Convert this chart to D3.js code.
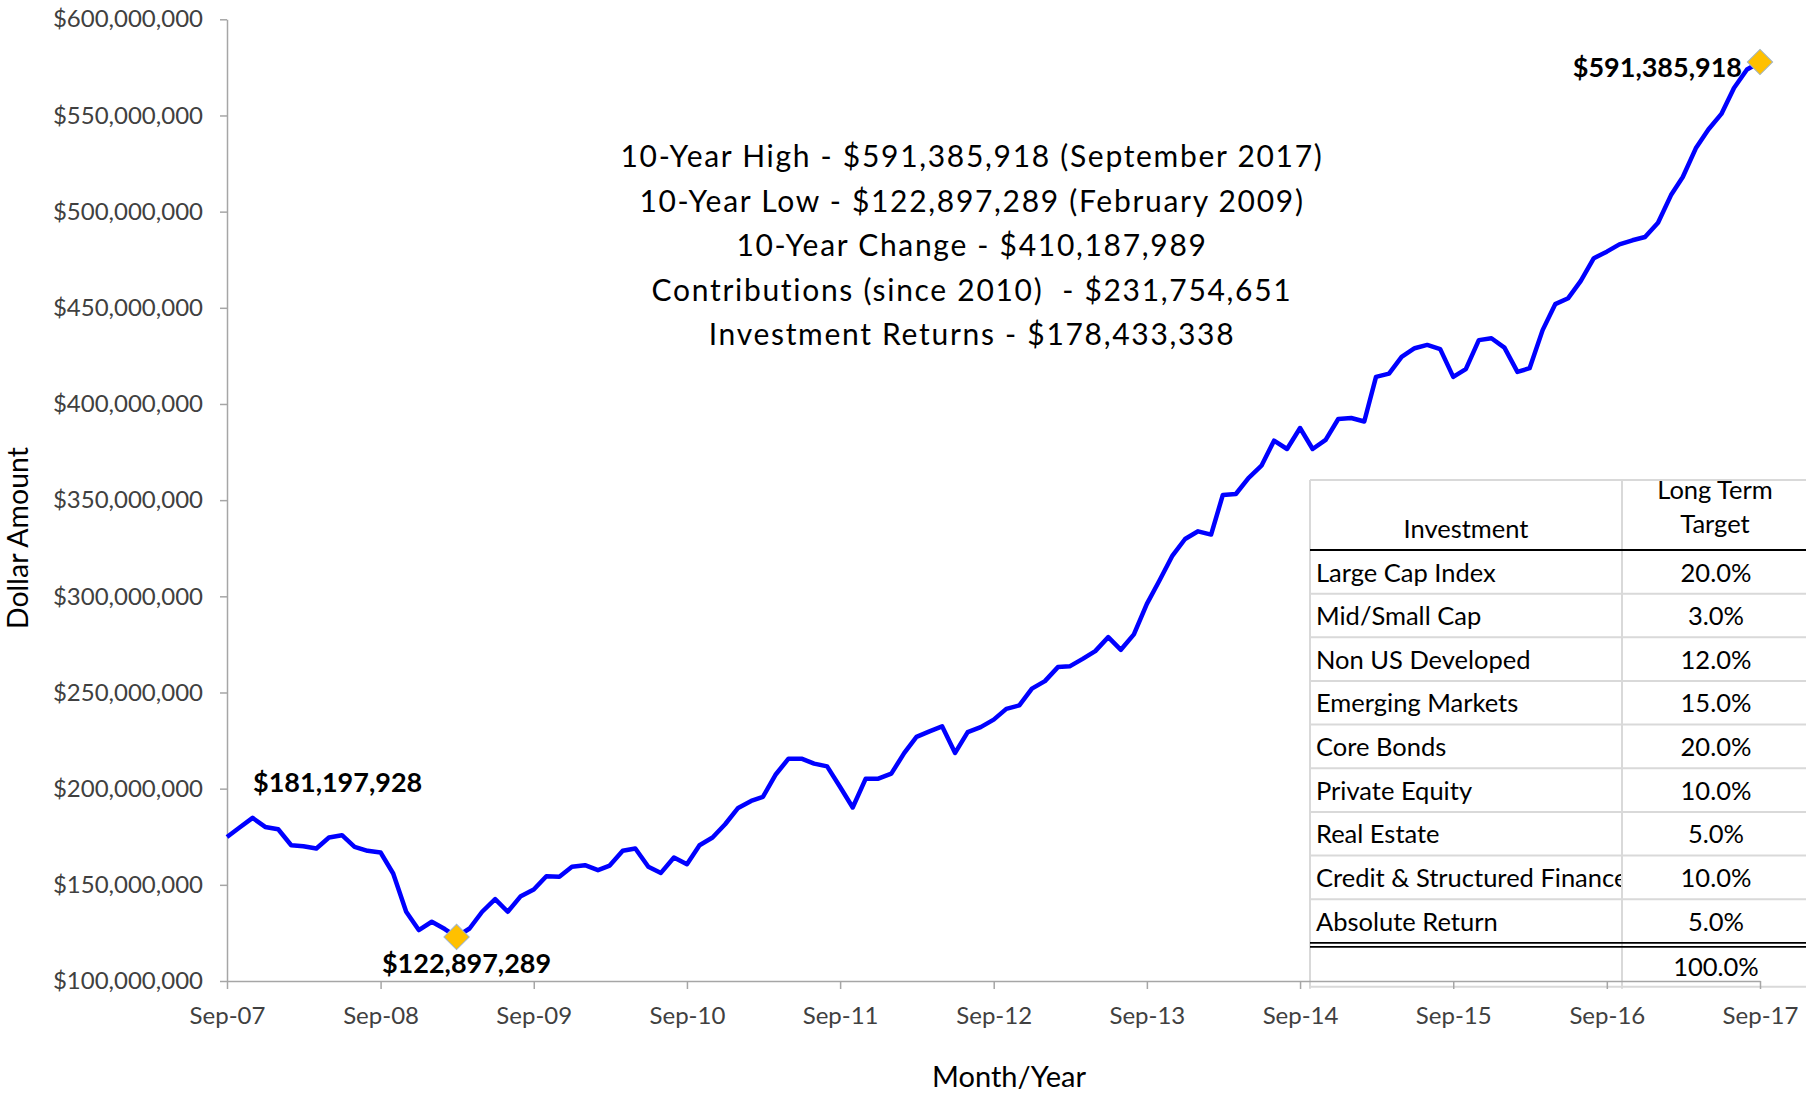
<!DOCTYPE html>
<html lang="en">
<head>
<meta charset="UTF-8">
<title>Plan Assets - 10 Years</title>
<script src="https://d3js.org/d3.v7.min.js"></script>
<style>
  body { margin: 0; background: #fff; }
  svg { display: block; font-family: Lato, "Open Sans", sans-serif; }
  .axis path, .axis line { stroke: #a6a6a6; stroke-width: 1.5; }
  .axis text { fill: #404040; font-family: Lato, sans-serif; }
</style>
</head>
<body>
<svg width="1806" height="1096"></svg>
<script>
// month-end asset value, $ millions, Sep-07 .. Sep-17 (one per month)
const firstMonth = new Date(2007, 8, 1);
const assetValues = [
  174.9, 179.8, 184.8, 180.1, 178.9, 170.6, 170.1, 168.9, 174.6, 175.8, 169.7, 167.7,
  166.8, 155.9, 136.0, 126.5, 130.8, 127.0, 122.9, 127.3, 136.0, 142.6, 136.0, 144.1,
  147.6, 154.5, 154.2, 159.4, 160.2, 157.6, 160.0, 167.7, 168.9, 159.4, 156.2, 164.2,
  160.7, 170.6, 174.6, 181.5, 190.0, 193.6, 195.7, 207.5, 215.6, 215.6, 213.0, 211.6,
  200.9, 190.2, 205.2, 205.2, 207.8, 218.6, 226.9, 229.8, 232.4, 218.6, 229.4, 232.0,
  235.9, 241.5, 243.3, 252.0, 255.9, 263.2, 263.6, 267.5, 271.5, 278.8, 272.2, 280.2,
  296.1, 308.2, 321.2, 329.8, 333.8, 332.1, 352.7, 353.2, 361.5, 367.9, 380.9, 376.6,
  387.5, 376.6, 381.3, 392.2, 392.7, 390.9, 414.1, 415.8, 424.5, 429.0, 430.7, 428.5,
  414.1, 418.1, 433.2, 434.2, 429.3, 416.7, 418.6, 438.4, 451.9, 455.0, 464.0, 475.8,
  479.2, 483.0, 485.1, 486.8, 494.2, 508.6, 518.0, 532.9, 542.7, 550.8, 564.3, 573.9,
  577.8
];

const xTickLabels = ["Sep-07", "Sep-08", "Sep-09", "Sep-10", "Sep-11", "Sep-12",
                     "Sep-13", "Sep-14", "Sep-15", "Sep-16", "Sep-17"];
const yTickValues = [100, 150, 200, 250, 300, 350, 400, 450, 500, 550, 600];

// labelled points: month index + text
const pointLabels = [
  { idx: 0,   text: "$181,197,928" },
  { idx: 18,  text: "$122,897,289" },
  { idx: 120, text: "$591,385,918" }
];
const markerIdx = [18, 120];

const notes = [
  "10-Year High - $591,385,918 (September 2017)",
  "10-Year Low - $122,897,289 (February 2009)",
  "10-Year Change - $410,187,989",
  "Contributions (since 2010)  - $231,754,651",
  "Investment Returns - $178,433,338"
];

const investments = ["Large Cap Index", "Mid/Small Cap", "Non US Developed", "Emerging Markets",
  "Core Bonds", "Private Equity", "Real Estate", "Credit & Structured Finance", "Absolute Return"];
const targets = ["20.0%", "3.0%", "12.0%", "15.0%", "20.0%", "10.0%", "5.0%", "10.0%", "5.0%"];
const totalTarget = "100.0%";

const svg = d3.select("svg");

const data = assetValues.map(function(v, i) {
  return { date: d3.timeMonth.offset(firstMonth, i), value: v };
});

const x = d3.scaleTime()
  .domain([firstMonth, d3.timeMonth.offset(firstMonth, 120)])
  .range([227, 1760]);
const y = d3.scaleLinear().domain([100, 600]).range([981, 19.3]);

// ---- allocation table (drawn first, axes sit over it)
const tb = { left: 1310, mid: 1622, right: 1810, top: 480, head: 550, rowH: 43.65 };
const tbl = svg.append("g");
const lastRow = tb.head + investments.length * tb.rowH;
const tblBottom = lastRow + 44;
tbl.append("rect").attr("x", tb.left).attr("y", tb.top)
  .attr("width", tb.right - tb.left).attr("height", tblBottom - tb.top).attr("fill", "#fff");

const grid = "#d9d9d9";
tbl.append("line").attr("x1", tb.left).attr("x2", tb.right).attr("y1", tb.top).attr("y2", tb.top)
  .attr("stroke", grid).attr("stroke-width", 2);
investments.forEach(function(d, k) {
  if (k === 0) return;
  const yy = tb.head + k * tb.rowH;
  tbl.append("line").attr("x1", tb.left).attr("x2", tb.right).attr("y1", yy).attr("y2", yy)
    .attr("stroke", grid).attr("stroke-width", 2);
});
tbl.append("line").attr("x1", tb.left).attr("x2", tb.right).attr("y1", tblBottom).attr("y2", tblBottom)
  .attr("stroke", grid).attr("stroke-width", 2);
[tb.left, tb.mid].forEach(function(xx) {
  tbl.append("line").attr("x1", xx).attr("x2", xx).attr("y1", tb.top).attr("y2", tblBottom + 2)
    .attr("stroke", grid).attr("stroke-width", 2);
});
tbl.append("line").attr("x1", tb.left).attr("x2", tb.right).attr("y1", tb.head).attr("y2", tb.head)
  .attr("stroke", "#000").attr("stroke-width", 2);
[lastRow, lastRow + 4].forEach(function(yy) {
  tbl.append("line").attr("x1", tb.left).attr("x2", tb.right).attr("y1", yy).attr("y2", yy)
    .attr("stroke", "#000").attr("stroke-width", 1.6);
});

svg.append("clipPath").attr("id", "col1")
  .append("rect").attr("x", tb.left).attr("y", tb.top).attr("width", tb.mid - tb.left - 1).attr("height", 600);

const tfont = 25.5;
tbl.append("text").attr("x", (tb.left + tb.mid) / 2).attr("y", 538).attr("text-anchor", "middle")
  .attr("font-size", tfont).text("Investment");
tbl.append("text").attr("x", 1715).attr("y", 499).attr("text-anchor", "middle")
  .attr("font-size", tfont).text("Long Term");
tbl.append("text").attr("x", 1715).attr("y", 533).attr("text-anchor", "middle")
  .attr("font-size", tfont).text("Target");

tbl.selectAll(".inv").data(investments).enter().append("text")
  .attr("x", tb.left + 6)
  .attr("y", function(d, k) { return tb.head + k * tb.rowH + 31.5; })
  .attr("font-size", tfont)
  .attr("clip-path", "url(#col1)")
  .text(function(d) { return d; });
tbl.selectAll(".tgt").data(targets).enter().append("text")
  .attr("x", 1716)
  .attr("y", function(d, k) { return tb.head + k * tb.rowH + 31.5; })
  .attr("text-anchor", "middle")
  .attr("font-size", tfont)
  .text(function(d) { return d; });
tbl.append("text").attr("x", 1716).attr("y", tblBottom - 11).attr("text-anchor", "middle")
  .attr("font-size", tfont).text(totalTarget);

// ---- axes
const fmtMoney = function(v) { return "$" + d3.format(",")(v * 1e6); };

svg.append("g").attr("class", "axis")
  .attr("transform", "translate(227,0)")
  .call(d3.axisLeft(y).tickValues(yTickValues).tickFormat(fmtMoney)
    .tickSize(7).tickSizeOuter(0).tickPadding(17))
  .selectAll("text").attr("font-size", 24);

const xTicks = xTickLabels.map(function(d, k) { return d3.timeYear.offset(firstMonth, k); });
svg.append("g").attr("class", "axis")
  .attr("transform", "translate(0,981)")
  .call(d3.axisBottom(x).tickValues(xTicks)
    .tickFormat(function(d, k) { return xTickLabels[k]; })
    .tickSize(8).tickSizeOuter(0).tickPadding(18))
  .selectAll("text").attr("font-size", 24).attr("fill", "#000");

svg.append("text")
  .attr("transform", "translate(28,538) rotate(-90)")
  .attr("text-anchor", "middle").attr("font-size", 28.5).attr("fill", "#000")
  .text("Dollar Amount");
svg.append("text")
  .attr("x", 1009).attr("y", 1087)
  .attr("text-anchor", "middle").attr("font-size", 29).attr("fill", "#000")
  .text("Month/Year");

// ---- the series
const line = d3.line()
  .x(function(d) { return x(d.date); })
  .y(function(d) { return y(d.value); });

svg.append("path").datum(data)
  .attr("d", line)
  .attr("fill", "none")
  .attr("stroke", "#0000ff")
  .attr("stroke-width", 4.5)
  .attr("stroke-linejoin", "round");

svg.selectAll(".marker").data(markerIdx).enter().append("path")
  .attr("d", d3.symbol(d3.symbolSquare, 320))
  .attr("transform", function(i) {
    return "translate(" + x(data[i].date) + "," + y(data[i].value) + ") rotate(45)";
  })
  .attr("fill", "#ffc000")
  .attr("stroke", "#9fb4cc")
  .attr("stroke-width", 1);

// label placement relative to its point
const labelPos = {
  0:   { dx: 26,  dy: -45, anchor: "start" },
  18:  { dx: 10,  dy: 36,  anchor: "middle" },
  120: { dx: -18, dy: 15,  anchor: "end" }
};
svg.selectAll(".plabel").data(pointLabels).enter().append("text")
  .attr("x", function(d) { return x(data[d.idx].date) + labelPos[d.idx].dx; })
  .attr("y", function(d) { return y(data[d.idx].value) + labelPos[d.idx].dy; })
  .attr("text-anchor", function(d) { return labelPos[d.idx].anchor; })
  .attr("font-size", 27).attr("font-weight", "bold")
  .text(function(d) { return d.text; });

// ---- summary notes
svg.selectAll(".note").data(notes).enter().append("text")
  .attr("x", 972)
  .attr("y", function(d, k) { return 167 + k * 44.5; })
  .attr("text-anchor", "middle")
  .attr("font-size", 30)
  .attr("letter-spacing", 1.7)
  .style("white-space", "pre")
  .text(function(d) { return d; });
</script>
</body>
</html>
